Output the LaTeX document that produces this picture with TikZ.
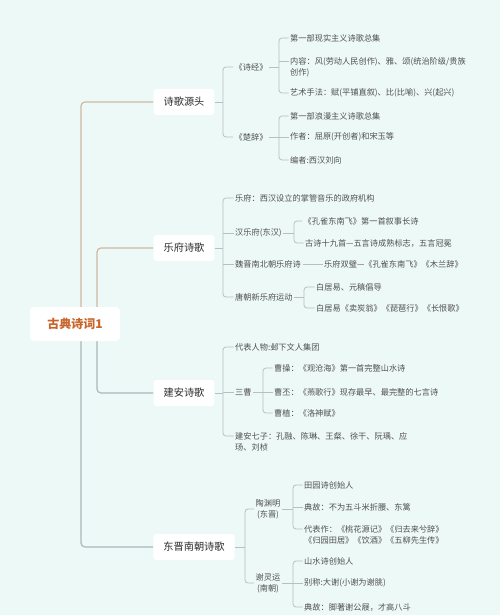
\documentclass[tikz,border=0pt]{standalone}
\usepackage{fontspec}
\setmainfont{Noto Sans CJK SC}
\usetikzlibrary{calc}
\definecolor{bgcol}{HTML}{EDF9F6}
\definecolor{linecol}{HTML}{B7C0BF}
\definecolor{rootupcol}{HTML}{CDB9A4}
\definecolor{rootdowncol}{HTML}{A9B8BC}
\definecolor{rootcol}{HTML}{C9652A}
\definecolor{maintext}{HTML}{2A2A2A}
\definecolor{leaftext}{HTML}{505050}
\pgfdeclarelayer{bg}
\pgfdeclarelayer{lines}
\pgfsetlayers{bg,lines,main}
\tikzset{
  rootnode/.style={fill=white, rounded corners=4pt, minimum width=90pt, minimum height=34pt,
    font=\fontsize{12}{14}\selectfont\bfseries, text=rootcol},
  mainnode/.style={fill=white, rounded corners=3pt, inner xsep=10pt, minimum height=26pt,
    font=\fontsize{10.2}{12}\selectfont, text=maintext},
  leaf/.style={anchor=west, inner xsep=1.5pt, inner ysep=1pt,
    font=\fontsize{8.2}{11}\selectfont, text=leaftext},
  leafml/.style={leaf, anchor=north west, align=left},
  sectwo/.style={inner sep=1.5pt, align=center, font=\fontsize{8.2}{11}\selectfont, text=leaftext},
  conn/.style={draw=linecol, line width=0.8pt},
  brk/.style={conn, rounded corners=3pt},
  rootup/.style={draw=rootupcol, line width=1.2pt, rounded corners=4pt},
  rootdown/.style={draw=rootdowncol, line width=1.2pt, rounded corners=4pt}
}
\begin{document}
\begin{tikzpicture}[x=1pt,y=-1pt]
\begin{pgfonlayer}{bg}
\fill[bgcol] (0,0) rectangle (500,615);
\end{pgfonlayer}
\useasboundingbox (0,0) rectangle (500,615);

% root
\node[rootnode] (root) at (75,324) {古典诗词1};
\coordinate (ro) at (81,324);
\coordinate (ri) at (97,324);

% main branches
\node[mainnode] (m1) at (184,102) {诗歌源头};
\node[mainnode] (m2) at (184,248) {乐府诗歌};
\node[mainnode] (m3) at (184,393) {建安诗歌};
\node[mainnode] (m4) at (194,547) {东晋南朝诗歌};

% group 1
\node[leaf] (s1) at (233,67) {《诗经》};
\node[leaf] (s2) at (233,137) {《楚辞》};
\node[leaf] (s11) at (288.5,38) {第一部现实主义诗歌总集};
\node[leafml] (s12) at (288.5,56) {内容：风(劳动人民创作)、雅、颂(统治阶级/贵族\\创作)};
\coordinate (s12c) at ($(s12.north west)+(0,5)$);
\node[leaf] (s13) at (288.5,93) {艺术手法：赋(平铺直叙)、比(比喻)、兴(起兴)};
\node[leaf] (s21) at (288.5,116) {第一部浪漫主义诗歌总集};
\node[leaf] (s22) at (288.5,137) {作者：屈原(开创者)和宋玉等};
\node[leaf] (s23) at (288.5,160) {编者:西汉刘向};

% group 2
\node[leaf] (f1) at (233.5,198) {乐府：西汉设立的掌管音乐的政府机构};
\node[leaf] (f2) at (233.5,233) {汉乐府(东汉)};
\node[leaf] (f3) at (233.5,264) {魏晋南北朝乐府诗};
\node[leaf] (f4) at (233.5,297) {唐朝新乐府运动};
\node[leaf] (f21) at (302,221) {《孔雀东南飞》第一首叙事长诗};
\node[leaf] (f22) at (303.5,243) {古诗十九首—五言诗成熟标志，五言冠冕};
\node[leaf] (f31) at (322.5,264) {乐府双璧—《孔雀东南飞》《木兰辞》};
\node[leaf] (f41) at (314.5,287) {白居易、元稹倡导};
\node[leaf] (f42) at (314.5,308) {白居易《卖炭翁》《琵琶行》《长恨歌》};

% group 3
\node[leaf] (j1) at (233.5,347) {代表人物:邺下文人集团};
\node[leaf] (j2) at (233.5,392) {三曹};
\node[leafml] (j3) at (233.5,431) {建安七子：孔融、陈琳、王粲、徐干、阮瑀、应\\玚、刘桢};
\coordinate (j3c) at ($(j3.north west)+(0,5)$);
\node[leaf] (j21) at (272.5,368) {曹操：《观沧海》第一首完整山水诗};
\node[leaf] (j22) at (272.5,392) {曹丕：《燕歌行》现存最早、最完整的七言诗};
\node[leaf] (j23) at (272.5,413) {曹植：《洛神赋》};

% group 4
\node[sectwo] (t1) at (268,509) {陶渊明\\(东晋)};
\node[sectwo] (t2) at (268,583) {谢灵运\\(南朝)};
\node[leaf] (t11) at (302.5,485) {田园诗创始人};
\node[leaf] (t12) at (302.5,507) {典故：不为五斗米折腰、东篱};
\node[leafml] (t13) at (302.5,524) {代表作：《桃花源记》《归去来兮辞》\\《归园田居》《饮酒》《五柳先生传》};
\coordinate (t13c) at ($(t13.north west)+(0,5)$);
\node[leaf] (t21) at (302.5,561) {山水诗创始人};
\node[leaf] (t22) at (302.5,583) {别称:大谢(小谢为谢朓)};
\node[leaf] (t23) at (302.5,607) {典故：脚著谢公屐，才高八斗};

\begin{pgfonlayer}{lines}
% root connectors
\draw[rootup] (ro) |- (m1.west);
\draw[rootup] (ri) |- (m2.west);
\draw[rootdown] (ri) |- (m3.west);
\draw[rootdown] (ro) |- (m4.west);

% group 1
\coordinate (b1) at (223,102);
\draw[conn] (m1.east) -- (b1);
\draw[brk] (s1.west) -| (b1) |- (s2.west);
\coordinate (b11) at (279,67);
\draw[conn] (s1.east) -- (b11);
\draw[brk] (s11.west) -| (b11) |- (s13.west);
\draw[conn] (s12c) -- (s12c -| b11);
\coordinate (b12) at (279,137);
\draw[conn] (s2.east) -- (b12);
\draw[brk] (s21.west) -| (b12) |- (s23.west);
\draw[conn] (s22.west) -- (s22.west -| b12);

% group 2
\coordinate (b2) at (223,248);
\draw[conn] (m2.east) -- (b2);
\draw[brk] (f1.west) -| (b2) |- (f4.west);
\draw[conn] (f2.west) -- (f2.west -| b2);
\draw[conn] (f3.west) -- (f3.west -| b2);
\coordinate (b21) at (294,233);
\draw[conn] (f2.east) -- (b21);
\draw[brk] (f21.west) -| (b21) |- (f22.west);
\draw[conn] (f3.east) -- (f31.west);
\coordinate (b22) at (304,297);
\draw[conn] (f4.east) -- (b22);
\draw[brk] (f41.west) -| (b22) |- (f42.west);

% group 3
\coordinate (b3) at (223,393);
\draw[conn] (m3.east) -- (b3);
\draw[brk] (j1.west) -| (b3) |- (j3c);
\draw[conn] (j2.west) -- (j2.west -| b3);
\coordinate (b31) at (263,392);
\draw[conn] (j2.east) -- (b31);
\draw[brk] (j21.west) -| (b31) |- (j23.west);
\draw[conn] (j22.west) -- (j22.west -| b31);

% group 4
\coordinate (b4) at (245,547);
\draw[conn] (m4.east) -- (b4);
\draw[brk] (t1.west) -| (b4) |- (t2.west);
\coordinate (b41) at (293,509);
\draw[conn] (t1.east) -- (b41);
\draw[brk] (t11.west) -| (b41) |- (t13c);
\draw[conn] (t12.west) -- (t12.west -| b41);
\coordinate (b42) at (293,583);
\draw[conn] (t2.east) -- (b42);
\draw[brk] (t21.west) -| (b42) |- (t23.west);
\draw[conn] (t22.west) -- (t22.west -| b42);
\end{pgfonlayer}
\end{tikzpicture}
\end{document}
